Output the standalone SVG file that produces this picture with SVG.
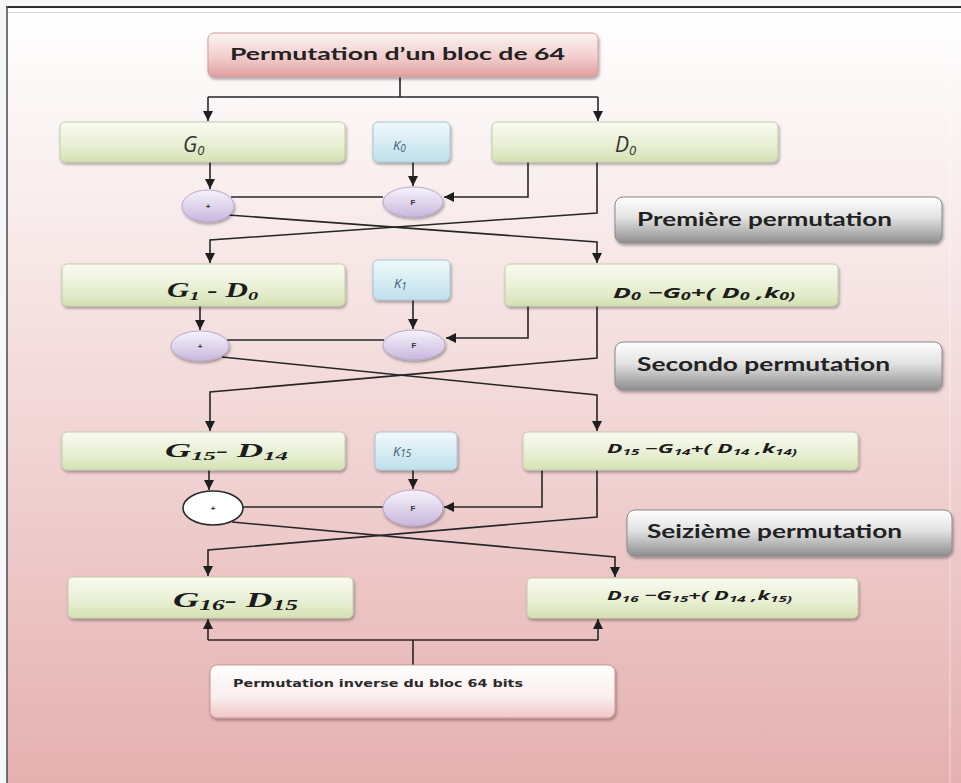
<svg xmlns="http://www.w3.org/2000/svg" width="961" height="783" viewBox="0 0 961 783">
  <defs>
    <linearGradient id="bg" x1="0" y1="0" x2="0" y2="1">
      <stop offset="0" stop-color="#ffffff"/>
      <stop offset="0.3" stop-color="#f8e9e9"/>
      <stop offset="0.65" stop-color="#efcdcd"/>
      <stop offset="1" stop-color="#e5b0b0"/>
    </linearGradient>
    <linearGradient id="pink" x1="0" y1="0" x2="0" y2="1">
      <stop offset="0" stop-color="#fdf4f4"/>
      <stop offset="0.55" stop-color="#f2cdcd"/>
      <stop offset="1" stop-color="#e09e9e"/>
    </linearGradient>
    <linearGradient id="pinkLight" x1="0" y1="0" x2="0" y2="1">
      <stop offset="0" stop-color="#ffffff"/>
      <stop offset="0.6" stop-color="#fbeeee"/>
      <stop offset="1" stop-color="#efc6c6"/>
    </linearGradient>
    <linearGradient id="green" x1="0" y1="0" x2="0" y2="1">
      <stop offset="0" stop-color="#f8faf0"/>
      <stop offset="0.5" stop-color="#ebf1d8"/>
      <stop offset="1" stop-color="#d5e2b3"/>
    </linearGradient>
    <linearGradient id="blue" x1="0" y1="0" x2="0" y2="1">
      <stop offset="0" stop-color="#f0f9fc"/>
      <stop offset="1" stop-color="#bfe0ec"/>
    </linearGradient>
    <linearGradient id="gray" x1="0" y1="0" x2="0" y2="1">
      <stop offset="0" stop-color="#ffffff"/>
      <stop offset="0.45" stop-color="#e2e2e2"/>
      <stop offset="1" stop-color="#8e8e8e"/>
    </linearGradient>
    <linearGradient id="lav" x1="0" y1="0" x2="0" y2="1">
      <stop offset="0" stop-color="#f7f3fb"/>
      <stop offset="1" stop-color="#c8b7de"/>
    </linearGradient>
    <filter id="shadow" x="-10%" y="-20%" width="120%" height="150%">
      <feDropShadow dx="1" dy="2" stdDeviation="1.4" flood-color="#000" flood-opacity="0.35"/>
    </filter>
    <marker id="arrow" viewBox="0 0 10 10" refX="10" refY="5" markerWidth="10" markerHeight="10" markerUnits="userSpaceOnUse" orient="auto">
      <path d="M0,0 L10,5 L0,10 z" fill="#1e1e1e"/>
    </marker>
    <style>
      .box-g { fill: url(#green); stroke: #c3ccaa; stroke-width: 1; filter: url(#shadow); }
      .box-k { fill: url(#blue); stroke: #a6c6d6; stroke-width: 1; filter: url(#shadow); }
      .box-p { fill: url(#gray); stroke: #8a8a8a; stroke-width: 1; filter: url(#shadow); }
      .op { fill: url(#lav); stroke: #b8a8cc; stroke-width: 1; filter: url(#shadow); }
      .op-w { fill: #ffffff; stroke: #2a2a2a; stroke-width: 1.6; }
      .op-t { font-family: "Liberation Sans", Arial, sans-serif; font-weight: bold; font-size: 8px; fill: #333; text-anchor: middle; }
      .lab { font-family: "Lato", "Open Sans", "Liberation Sans", sans-serif; font-weight: bold; fill: #222; }
      .ital { font-family: "Open Sans", "Liberation Sans", sans-serif; font-style: italic; fill: #333; }
      .kt { font-family: "Open Sans", "Liberation Sans", sans-serif; font-style: italic; fill: #3d5b72; }
      .serif { font-family: "Liberation Serif", "Times New Roman", serif; font-style: italic; font-weight: bold; fill: #1c1c1c; }
      .form { font-family: "Open Sans", "Liberation Sans", sans-serif; font-style: italic; font-weight: bold; fill: #1c1c1c; }
      .conn path { fill: none; stroke: #262626; stroke-width: 1.6; }
    </style>
  </defs>

  <!-- page and frame -->
  <rect x="0" y="0" width="961" height="783" fill="#f6f7f8"/>
  <rect x="7" y="7" width="954" height="776" fill="url(#bg)"/>
  <line x1="7" y1="12.5" x2="961" y2="12.5" stroke="#d4d4d4" stroke-width="1"/>
  <line x1="6" y1="7" x2="961" y2="7" stroke="#2e2e2e" stroke-width="2"/>
  <line x1="7" y1="6" x2="7" y2="783" stroke="#555" stroke-width="1.6"/>
  <line x1="950" y1="13" x2="950" y2="783" stroke="#ffffff" stroke-opacity="0.5" stroke-width="1"/>

  <!-- connectors -->
  <g class="conn" id="connectors">
    <path d="M400 77 V97 M208 97 H598"/>
    <path d="M208 97 V121" marker-end="url(#arrow)"/>
    <path d="M598 97 V121" marker-end="url(#arrow)"/>

    <!-- round 1 -->
    <path d="M210 162 V189" marker-end="url(#arrow)"/>
    <path d="M413 162 V186" marker-end="url(#arrow)"/>
    <path d="M528 162 V197 H444" marker-end="url(#arrow)"/>
    <path d="M231 197 H383"/>
    <path d="M597 162 V213 L210 240 V263" marker-end="url(#arrow)"/>
    <path d="M228 215 L597 242 V263" marker-end="url(#arrow)"/>

    <!-- round 2 -->
    <path d="M200 306 V330" marker-end="url(#arrow)"/>
    <path d="M413 300 V329" marker-end="url(#arrow)"/>
    <path d="M528 306 V338 H446" marker-end="url(#arrow)"/>
    <path d="M227 340 H384"/>
    <path d="M597 306 V358 L210 392 V431" marker-end="url(#arrow)"/>
    <path d="M222 357 L597 395 V431" marker-end="url(#arrow)"/>

    <!-- round 16 -->
    <path d="M209 470 V490" marker-end="url(#arrow)"/>
    <path d="M413 470 V489" marker-end="url(#arrow)"/>
    <path d="M542 470 V507 H444" marker-end="url(#arrow)"/>
    <path d="M243 507 H383"/>
    <path d="M597 470 V517 L208 550 V576" marker-end="url(#arrow)"/>
    <path d="M232 522 L615 557 V577" marker-end="url(#arrow)"/>

    <!-- final inverse permutation -->
    <path d="M413 665 V640 M208 640 H598"/>
    <path d="M208 640 V619" marker-end="url(#arrow)"/>
    <path d="M598 640 V619" marker-end="url(#arrow)"/>
  </g>

  <!-- initial permutation -->
  <g id="perm-initiale">
    <rect x="208" y="33" width="390" height="44" rx="6" fill="url(#pink)" stroke="#d59a9a" stroke-width="1" filter="url(#shadow)"/>
    <text class="lab" x="230" y="60" font-size="17" textLength="335" lengthAdjust="spacingAndGlyphs">Permutation d’un bloc de 64</text>
  </g>

  <!-- round 1 -->
  <g id="G0">
    <rect class="box-g" x="60" y="122" width="285" height="40" rx="5"/>
    <text class="ital" x="183" y="152" font-size="21">G<tspan font-size="13" dy="3">0</tspan></text>
  </g>
  <g id="K0">
    <rect class="box-k" x="373" y="122" width="77" height="40" rx="5"/>
    <text class="kt" x="393" y="150" font-size="13">K<tspan font-size="10" dy="2">0</tspan></text>
  </g>
  <g id="D0">
    <rect class="box-g" x="492" y="122" width="286" height="40" rx="5"/>
    <text class="ital" x="615" y="152" font-size="21">D<tspan font-size="13" dy="3">0</tspan></text>
  </g>
  <g id="xor1">
    <ellipse class="op" cx="208" cy="206" rx="26" ry="16"/>
    <text class="op-t" x="208" y="209">+</text>
  </g>
  <g id="F1">
    <ellipse class="op" cx="413" cy="202" rx="30" ry="15"/>
    <text class="op-t" x="413" y="205">F</text>
  </g>
  <g id="label1">
    <rect class="box-p" x="615" y="197" width="327" height="46" rx="8"/>
    <text class="lab" x="637" y="226" font-size="19" textLength="255" lengthAdjust="spacingAndGlyphs">Première permutation</text>
  </g>

  <!-- round 2 -->
  <g id="G1D0">
    <rect class="box-g" x="62" y="264" width="283" height="42" rx="5"/>
    <text class="serif" x="167" y="297" font-size="20" textLength="91" lengthAdjust="spacingAndGlyphs">G<tspan font-size="13" dy="3">1</tspan><tspan dy="-3"> - D</tspan><tspan font-size="13" dy="3">0</tspan></text>
  </g>
  <g id="K1">
    <rect class="box-k" x="373" y="260" width="77" height="40" rx="5"/>
    <text class="kt" x="394" y="288" font-size="13">K<tspan font-size="10" dy="2">1</tspan></text>
  </g>
  <g id="D1">
    <rect class="box-g" x="505" y="264" width="333" height="42" rx="5"/>
    <text class="form" x="613" y="298" font-size="15" textLength="182" lengthAdjust="spacingAndGlyphs">D<tspan font-size="10" dy="2">0</tspan><tspan dy="-2"> −G</tspan><tspan font-size="10" dy="2">0</tspan><tspan dy="-2">+( D</tspan><tspan font-size="10" dy="2">0</tspan><tspan dy="-2"> ,k</tspan><tspan font-size="10" dy="2">0)</tspan></text>
  </g>
  <g id="xor2">
    <ellipse class="op" cx="200" cy="346" rx="29" ry="15"/>
    <text class="op-t" x="200" y="349">+</text>
  </g>
  <g id="F2">
    <ellipse class="op" cx="414" cy="345" rx="31" ry="15"/>
    <text class="op-t" x="414" y="348">F</text>
  </g>
  <g id="label2">
    <rect class="box-p" x="615" y="342" width="327" height="48" rx="8"/>
    <text class="lab" x="637" y="371" font-size="19" textLength="253" lengthAdjust="spacingAndGlyphs">Secondo permutation</text>
  </g>

  <!-- round 16 -->
  <g id="G15D14">
    <rect class="box-g" x="62" y="432" width="283" height="38" rx="5"/>
    <text class="serif" x="165" y="457" font-size="19" textLength="123" lengthAdjust="spacingAndGlyphs">G<tspan font-size="13" dy="3">15</tspan><tspan dy="-3">-  D</tspan><tspan font-size="13" dy="3">14</tspan></text>
  </g>
  <g id="K15">
    <rect class="box-k" x="375" y="432" width="82" height="38" rx="5"/>
    <text class="kt" x="393" y="456" font-size="13">K<tspan font-size="10" dy="1">15</tspan></text>
  </g>
  <g id="D15">
    <rect class="box-g" x="523" y="432" width="335" height="38" rx="5"/>
    <text class="form" x="607" y="453" font-size="12" textLength="190" lengthAdjust="spacingAndGlyphs">D<tspan font-size="8" dy="2">15</tspan><tspan dy="-2"> −G</tspan><tspan font-size="8" dy="2">14</tspan><tspan dy="-2">+( D</tspan><tspan font-size="8" dy="2">14</tspan><tspan dy="-2"> ,k</tspan><tspan font-size="8" dy="2">14)</tspan></text>
  </g>
  <g id="xor16">
    <ellipse class="op-w" cx="213" cy="508" rx="30" ry="17"/>
    <text class="op-t" x="213" y="511">+</text>
  </g>
  <g id="F16">
    <ellipse class="op" cx="413" cy="508" rx="30" ry="18"/>
    <text class="op-t" x="413" y="511">F</text>
  </g>
  <g id="label16">
    <rect class="box-p" x="627" y="510" width="325" height="46" rx="8"/>
    <text class="lab" x="647" y="538" font-size="19" textLength="255" lengthAdjust="spacingAndGlyphs">Seizième permutation</text>
  </g>

  <!-- output halves -->
  <g id="G16D15">
    <rect class="box-g" x="68" y="577" width="285" height="41" rx="5"/>
    <text class="serif" x="173" y="607" font-size="20" textLength="125" lengthAdjust="spacingAndGlyphs">G<tspan font-size="14" dy="3">16</tspan><tspan dy="-3">-  D</tspan><tspan font-size="14" dy="3">15</tspan></text>
  </g>
  <g id="D16">
    <rect class="box-g" x="527" y="578" width="331" height="40" rx="5"/>
    <text class="form" x="607" y="600" font-size="13" textLength="185" lengthAdjust="spacingAndGlyphs">D<tspan font-size="9" dy="2">16</tspan><tspan dy="-2"> −G</tspan><tspan font-size="9" dy="2">15</tspan><tspan dy="-2">+( D</tspan><tspan font-size="9" dy="2">14</tspan><tspan dy="-2"> ,k</tspan><tspan font-size="9" dy="2">15)</tspan></text>
  </g>

  <!-- inverse permutation -->
  <g id="perm-inverse">
    <rect x="210" y="665" width="405" height="53" rx="7" fill="url(#pinkLight)" stroke="#c99494" stroke-width="1" filter="url(#shadow)"/>
    <text x="233" y="687" font-family="'DejaVu Sans', Verdana, sans-serif" font-size="11" font-weight="bold" fill="#2a2a2a" textLength="290" lengthAdjust="spacingAndGlyphs">Permutation inverse du bloc  64  bits</text>
  </g>
</svg>
